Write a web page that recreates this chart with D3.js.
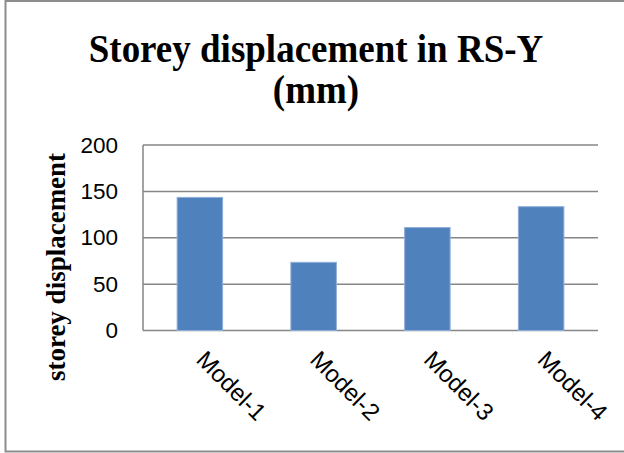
<!DOCTYPE html>
<html>
<head>
<meta charset="utf-8">
<script src="https://cdn.jsdelivr.net/npm/d3@7"></script>
<style>
  html, body { margin: 0; padding: 0; background: #fff; }
  svg { display: block; }
</style>
</head>
<body>
<div id="chart"></div>
<script>
// chart data
const categories = ['Model-1', 'Model-2', 'Model-3', 'Model-4'];
const values = [143.5, 73.5, 111, 133.5];
const yTicks = [0, 50, 100, 150, 200];
const titleLines = ['Storey displacement in RS-Y', '(mm)'];
const yLabel = 'storey displacement';

(function(){
    const width = 624, height = 453;
    const svg = d3.select('#chart').append('svg')
        .attr('width', width).attr('height', height);

    // outer frame
    svg.append('rect')
        .attr('x', 5.5).attr('y', 1).attr('width', 640).attr('height', 450.5)
        .attr('fill', '#fff').attr('stroke', '#8c8c8c').attr('stroke-width', 2);

    const plot = {left: 143, right: 598, top: 145, bottom: 330.5};

    const x = d3.scaleBand().domain(categories)
        .range([plot.left, plot.right]).paddingInner(0.6).paddingOuter(0.3);
    const y = d3.scaleLinear().domain([0, 200]).range([plot.bottom, plot.top]);

    // gridlines
    svg.append('g').selectAll('line').data(yTicks).join('line')
        .attr('x1', plot.left).attr('x2', plot.right)
        .attr('y1', d => y(d)).attr('y2', d => y(d))
        .attr('stroke', '#868686').attr('stroke-width', 1.5);

    // y axis line
    svg.append('line')
        .attr('x1', plot.left).attr('x2', plot.left)
        .attr('y1', plot.top).attr('y2', plot.bottom)
        .attr('stroke', '#868686').attr('stroke-width', 1.5);

    // bars
    svg.append('g').selectAll('rect').data(values).join('rect')
        .attr('x', (d, i) => x(categories[i]))
        .attr('y', d => y(d))
        .attr('width', x.bandwidth())
        .attr('height', d => y(0) - y(d))
        .attr('fill', '#4F81BD')
        .attr('stroke', '#8FAFD9').attr('stroke-width', 1);

    // y tick labels
    const yAxis = d3.axisLeft(y).tickValues(yTicks).tickSize(0).tickPadding(25);
    const yg = svg.append('g').attr('transform', `translate(${plot.left},0)`).call(yAxis);
    yg.select('.domain').remove();
    yg.selectAll('text')
        .style('font-family', '"Liberation Sans", Arial, sans-serif')
        .style('font-size', '22.5px').attr('fill', '#000');

    // x tick labels, rotated 45°
    svg.append('g').selectAll('text').data(categories).join('text')
        .attr('transform', d => `translate(${x(d) + x.bandwidth() / 2 - 5},361) rotate(45)`)
        .attr('text-anchor', 'start')
        .style('font-family', '"Liberation Sans", Arial, sans-serif')
        .style('font-size', '24px')
        .text(d => d);

    // title
    svg.append('g').selectAll('text').data(titleLines).join('text')
        .attr('transform', (d, i) => `translate(316,${62 + i * 41}) scale(1,1.08)`)
        .attr('text-anchor', 'middle')
        .style('font-family', '"Liberation Serif", "Times New Roman", serif')
        .style('font-weight', 'bold').style('font-size', '37px')
        .text(d => d);

    // y axis title
    svg.append('text')
        .attr('transform', 'translate(65,267) rotate(-90)')
        .attr('text-anchor', 'middle')
        .style('font-family', '"Liberation Serif", "Times New Roman", serif')
        .style('font-weight', 'bold').style('font-size', '27px')
        .text(yLabel);
})();
</script>
</body>
</html>
